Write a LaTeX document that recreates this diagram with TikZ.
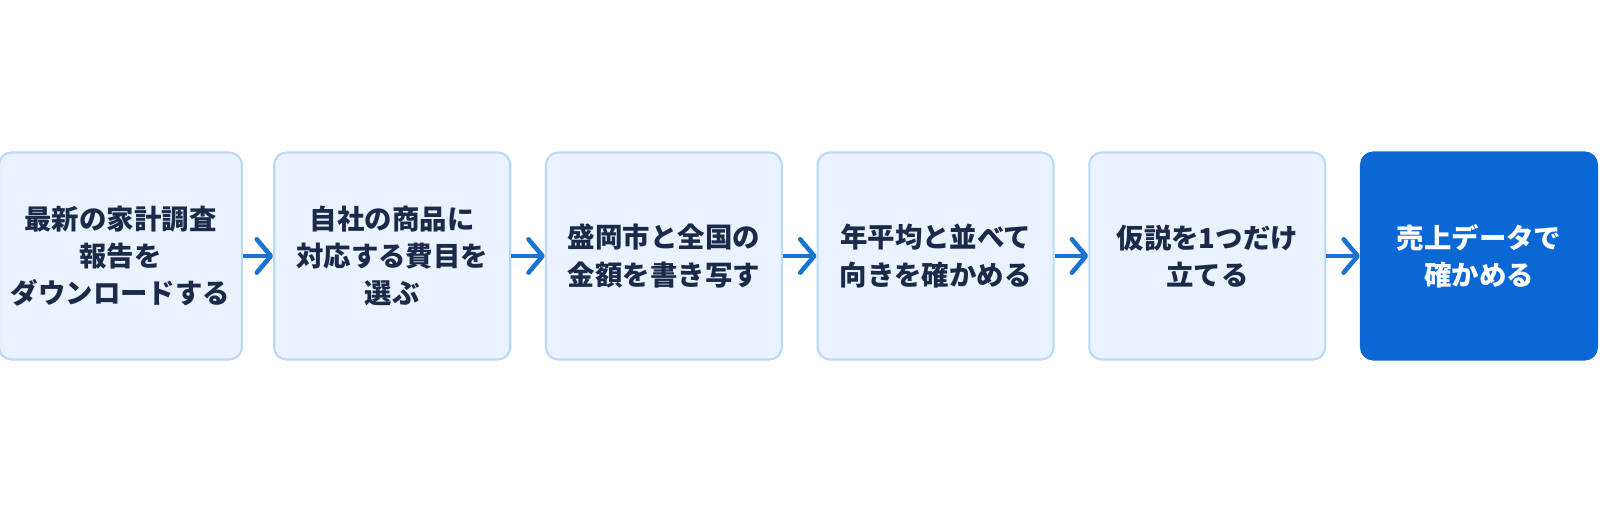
\documentclass[tikz,border=0pt]{standalone}
\usepackage{fontspec}
\setmainfont{Noto Sans CJK JP}
\usepackage{tikz}
\usetikzlibrary{arrows.meta}
\definecolor{stepfill}{HTML}{EAF3FD}
\definecolor{stepline}{HTML}{BCD8F4}
\definecolor{stepink}{HTML}{1B2A48}
\definecolor{goalfill}{HTML}{0B67D4}
\definecolor{flowblue}{HTML}{1A73D3}
\tikzset{>={Straight Barb[length=4pt, width=9.5pt, line width=1.3pt, round]}}
\tikzset{
    stepbox/.style={draw=stepline, fill=stepfill, line width=0.6pt, rounded corners=3.5pt,
        minimum width=2.36cm, minimum height=2.07cm, align=center, text=stepink,
        font=\bfseries\fontsize{7.8}{10.6}\selectfont},
    goalbox/.style={stepbox, draw=goalfill, fill=goalfill, text=white},
    flow/.style={->, draw=flowblue, line width=1.3pt}
}

\begin{document}
\begin{tikzpicture}
        \useasboundingbox (0, 0) rectangle (16, 5.09);
        \node[stepbox] (s1) at (1.205, 2.53) {最新の家計調査\\報告を\\ダウンロードする};
        \node[stepbox] (s2) at (3.922, 2.53) {自社の商品に\\対応する費目を\\選ぶ};
        \node[stepbox] (s3) at (6.639, 2.53) {盛岡市と全国の\\金額を書き写す};
        \node[stepbox] (s4) at (9.356, 2.53) {年平均と並べて\\向きを確かめる};
        \node[stepbox] (s5) at (12.073, 2.53) {仮説を1つだけ\\立てる};
        \node[goalbox] (s6) at (14.79, 2.53) {売上データで\\確かめる};
        \draw[flow] (s1) -- (s2);
        \draw[flow] (s2) -- (s3);
        \draw[flow] (s3) -- (s4);
        \draw[flow] (s4) -- (s5);
        \draw[flow] (s5) -- (s6);
    \end{tikzpicture}
\end{document}
